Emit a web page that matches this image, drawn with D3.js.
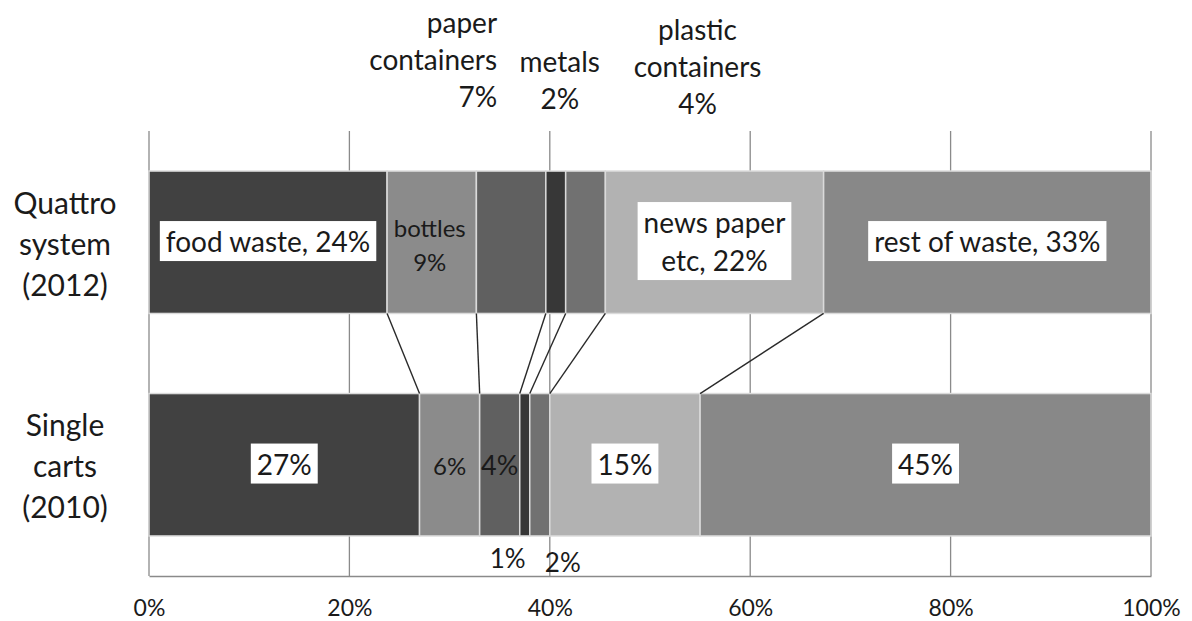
<!DOCTYPE html>
<html>
<head>
<meta charset="utf-8">
<script src="https://cdn.jsdelivr.net/npm/d3@7/dist/d3.min.js"></script>
<style>
  html, body { margin: 0; padding: 0; background: #fff; }
  svg { display: block; }
  text { font-family: Lato, "Open Sans", sans-serif; fill: #1a1a1a; }
</style>
</head>
<body>
<svg id="chart" width="1192" height="621"></svg>
<script>
// Waste composition by collection system (share of total weight)
const categories = ["Quattro system (2012)", "Single carts (2010)"];
const categoryLines = [["Quattro", "system", "(2012)"], ["Single", "carts", "(2010)"]];
const fractions = ["food waste", "bottles", "paper containers", "metals",
                   "plastic containers", "news paper etc", "rest of waste"];
const quattroValues = [24, 9, 7, 2, 4, 22, 33];
const singleValues = [27, 6, 4, 1, 2, 15, 45];
const tickValues = [0, 0.2, 0.4, 0.6, 0.8, 1];
const tickLabels = ["0%", "20%", "40%", "60%", "80%", "100%"];

const fills = ["#414141", "#8b8b8b", "#606060", "#373737", "#717171", "#b2b2b2", "#888888"];

const svg = d3.select("#chart");
const margin = { left: 149, right: 41, top: 131, bottom: 45 };
const W = 1192, H = 621;

const x = d3.scaleLinear().domain([0, 1]).range([margin.left, W - margin.right]);
const y = d3.scaleBand().domain(categories)
  .range([margin.top, H - margin.bottom]).paddingInner(0.36).paddingOuter(0.18);

// rows for the stack: one object per category
const rows = [quattroValues, singleValues].map((vals, i) => {
  const o = { category: categories[i] };
  fractions.forEach((f, j) => { o[f] = vals[j]; });
  return o;
});
const series = d3.stack().keys(fractions).offset(d3.stackOffsetExpand)(rows);

// vertical gridlines
svg.append("g").selectAll("line").data(tickValues).join("line")
  .attr("x1", d => x(d)).attr("x2", d => x(d))
  .attr("y1", margin.top).attr("y2", H - margin.bottom)
  .attr("stroke", "#8a8a8a").attr("stroke-width", 1.3);

// bottom axis
const axis = svg.append("g").attr("transform", `translate(0,${H - margin.bottom})`)
  .call(d3.axisBottom(x).tickValues(tickValues).tickSize(0).tickPadding(24)
    .tickFormat((d, i) => tickLabels[i]));
axis.select(".domain").attr("stroke", "#8a8a8a").attr("stroke-width", 1.5);
axis.selectAll("text").style("font-size", "23px").style("font-family", "Lato, sans-serif").attr("fill", "#1a1a1a");

// stacked segments
svg.append("g").selectAll("g").data(series).join("g")
  .attr("fill", (d, i) => fills[i])
  .selectAll("rect").data(d => d).join("rect")
  .attr("x", d => x(d[0])).attr("width", d => x(d[1]) - x(d[0]))
  .attr("y", d => y(d.data.category)).attr("height", y.bandwidth())
  .attr("stroke", "#dadada").attr("stroke-width", 1.5);

// connector lines between matching boundaries of the two bars
const bounds = series.slice(0, -1);
svg.append("g").selectAll("line").data(bounds).join("line")
  .attr("x1", d => x(d[0][1])).attr("y1", y(categories[0]) + y.bandwidth())
  .attr("x2", d => x(d[1][1])).attr("y2", y(categories[1]))
  .attr("stroke", "#2a2a2a").attr("stroke-width", 1.4);

// label helper: multi-line text, optional white box
function label(lines, cx, cy, opt) {
  const size = opt.size || 28, lh = opt.lh || size * 1.35, anchor = opt.anchor || "middle";
  const g = svg.append("g");
  const box = opt.box ? g.append("rect").attr("fill", "#fff") : null;
  const t = g.append("text").attr("text-anchor", anchor).style("font-size", size + "px");
  const y0 = cy - (lines.length - 1) * lh / 2;
  lines.forEach((s, i) => {
    t.append("tspan").attr("x", cx).attr("y", y0 + i * lh).attr("dy", "0.35em").text(s);
  });
  if (box) {
    const b = t.node().getBBox();
    box.attr("x", b.x - 6).attr("y", b.y - 3).attr("width", b.width + 12).attr("height", b.height + 6);
  }
}

const mid = (s, r) => x((series[s][r][0] + series[s][r][1]) / 2);
const cq = y(categories[0]) + y.bandwidth() / 2;
const cs = y(categories[1]) + y.bandwidth() / 2;
const pct = v => v + "%";

// Quattro bar labels
label([`${fractions[0]}, ${pct(quattroValues[0])}`], mid(0, 0), cq, { box: true });
label([fractions[1], pct(quattroValues[1])], mid(1, 0) - 2, cq + 3, { size: 24, lh: 34 });
label(["paper", "containers", pct(quattroValues[2])], mid(2, 0) - 14, 60, { size: 28, lh: 37, anchor: "end" });
label([fractions[3], pct(quattroValues[3])], mid(3, 0) + 4, 81, { size: 28, lh: 37 });
label(["plastic", "containers", pct(quattroValues[4])], mid(4, 0) + 112, 67, { size: 28, lh: 37 });
label(["news paper", `etc, ${pct(quattroValues[5])}`], mid(5, 0), cq, { box: true, lh: 38 });
label([`${fractions[6]}, ${pct(quattroValues[6])}`], mid(6, 0), cq, { box: true });

// Single carts labels
label([pct(singleValues[0])], mid(0, 1), cs, { box: true });
label([pct(singleValues[1])], mid(1, 1), cs + 2, { size: 24 });
label([pct(singleValues[2])], mid(2, 1), cs + 1, { size: 27 });
label([pct(singleValues[3])], mid(3, 1) - 17, 559, { size: 26 });
label([pct(singleValues[4])], mid(4, 1) + 23, 563, { size: 26 });
label([pct(singleValues[5])], mid(5, 1), cs, { box: true });
label([pct(singleValues[6])], mid(6, 1), cs, { box: true });

// category labels
categoryLines.forEach((lines, i) => {
  const c = y(categories[i]) + y.bandwidth() / 2;
  label(lines, 65, c + 2, { size: 30, lh: 41 });
});
</script>
</body>
</html>
